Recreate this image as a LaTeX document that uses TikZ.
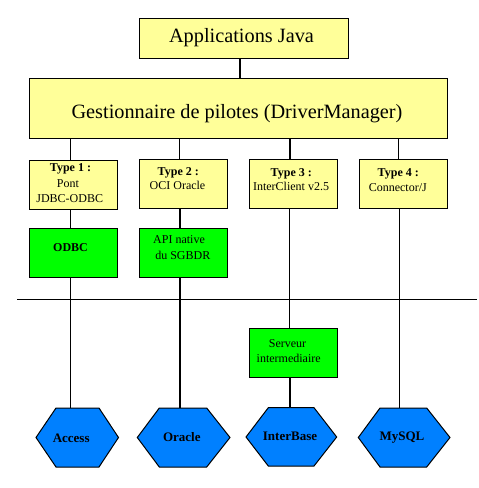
\documentclass[tikz,border=0pt]{standalone}
\usepackage{fontspec}
\setmainfont{Liberation Serif}
\newfontfamily\tms{Liberation Serif}
\usetikzlibrary{calc}
\definecolor{ylw}{HTML}{FFFF99}
\definecolor{grn}{HTML}{00FF00}
\definecolor{blu}{HTML}{0080FF}
\tikzset{
  boxy/.style={draw=black, line width=1pt, fill=ylw, minimum width=88pt, minimum height=49pt, inner sep=0pt, anchor=north west},
  boxg/.style={boxy, fill=grn},
  big/.style={font=\tms\fontsize{20.3}{24}\selectfont, anchor=base, inner sep=0pt},
  sm/.style={font=\tms\fontsize{12}{14}\selectfont, anchor=base, inner sep=0pt},
  smb/.style={font=\tms\fontsize{12}{14}\selectfont\bfseries, anchor=base, inner sep=0pt},
  hexl/.style={font=\tms\fontsize{13}{15}\selectfont\bfseries, anchor=base, inner sep=0pt},
  hexs/.style={draw=black, line width=1pt, fill=blu, line join=miter},
  thin/.style={line width=1pt},
  thick2/.style={line width=2pt},
}
\begin{document}
\begin{tikzpicture}[x=1pt,y=-1pt]
\useasboundingbox (0,0) rectangle (479,488);
% top boxes
\node[boxy, minimum width=209pt, minimum height=40pt] (apps) at (139,18) {};
\node[big] (appsT) at (241.5,42) {Applications Java};
\node[boxy, minimum width=418pt, minimum height=60pt] (dm) at (29,78) {};
\node[big] (dmT) at (237,118) {Gestionnaire de pilotes (DriverManager)};
% type boxes
\node[boxy] (t1) at (29,160) {};
\node[boxy] (t2) at (139,159) {};
\node[boxy] (t3) at (249,159) {};
\node[boxy] (t4) at (359,159) {};
\node[smb] (t1a) at (70.5,171.7) {Type 1 :};
\node[sm] (t1b) at (68,187.3) {Pont};
\node[sm] (t1c) at (69.7,202.7) {JDBC-ODBC};
\node[smb] (t2a) at (178.3,175) {Type 2 :};
\node[sm] (t2b) at (177.5,189.3) {OCI Oracle};
\node[smb] (t3a) at (291.3,176) {Type 3 :};
\node[sm] (t3b) at (291,190) {InterClient v2.5};
\node[smb] (t4a) at (398.3,176.7) {Type 4 :};
\node[sm] (t4b) at (397.8,191.7) {Connector/J};
% green boxes
\node[boxg] (odbc) at (29,228) {};
\node[smb] (odbcT) at (70.5,251) {ODBC};
\node[boxg] (api) at (139,228) {};
\node[sm] (apiA) at (179,243.3) {API native};
\node[sm] (apiB) at (182.8,259) {du SGBDR};
\node[boxg] (srv) at (249,328) {};
\node[sm] (srvA) at (287.5,347.3) {Serveur};
\node[sm] (srvB) at (288.7,362.3) {intermediaire};
% hexagons
\coordinate (hA) at (77,408);
\coordinate (hO) at (183,408);
\coordinate (hI) at (291,408);
\coordinate (hM) at (403,408);
\draw[hexs] (36,437.5) -- (56,408) -- (99,408) -- (118.5,437.5) -- (99,467) -- (56,467) -- cycle;
\draw[hexs] (137.3,437.5) -- (159.3,408) -- (206.7,408) -- (230,437.5) -- (206.7,467) -- (159.3,467) -- cycle;
\draw[hexs] (246,437) -- (268.3,407.7) -- (314,407.7) -- (336.7,437) -- (314,466) -- (268.3,466) -- cycle;
\draw[hexs] (358.3,437.5) -- (380,408) -- (426.7,408) -- (450,437.5) -- (426.7,467) -- (380,467) -- cycle;
\node[hexl] (acc) at (71.2,442.3) {Access};
\node[hexl] (ora) at (181.8,441.3) {Oracle};
\node[hexl] (ib) at (290,440.7) {InterBase};
\node[hexl] (my) at (402,440.7) {MySQL};
% separator
\coordinate (sepL) at (17,299.3);
\coordinate (sepR) at (477,299.3);
\draw[thin] (sepL) -- (sepR);
% connectors
\draw[thick2] (apps.south -| 240,0) -- (dm.north -| 240,0);
\draw[thin] (dm.south -| 70.3,0) -- (t1.north -| 70.3,0);
\draw[thin] (dm.south -| 179.8,0) -- (t2.north -| 179.8,0);
\draw[thick2] (dm.south -| 289.5,0) -- (t3.north -| 289.5,0);
\draw[thin] (dm.south -| 398.5,0) -- (t4.north -| 398.5,0);
\draw[thin] (t1.south -| 70.3,0) -- (odbc.north -| 70.3,0);
\draw[thick2] (t2.south -| 179.8,0) -- (api.north -| 179.8,0);
\draw[thin] (odbc.south -| 70.3,0) -- (hA -| 70.3,0);
\draw[thick2] (api.south -| 180,0) -- (hO -| 180,0);
\draw[thin] (t3.south -| 289.3,0) -- (srv.north -| 289.3,0);
\draw[thick2] (srv.south -| 289.7,0) -- (hI -| 289.7,0);
\draw[thin] (t4.south -| 399.3,0) -- (hM -| 399.3,0);
\end{tikzpicture}
\end{document}
